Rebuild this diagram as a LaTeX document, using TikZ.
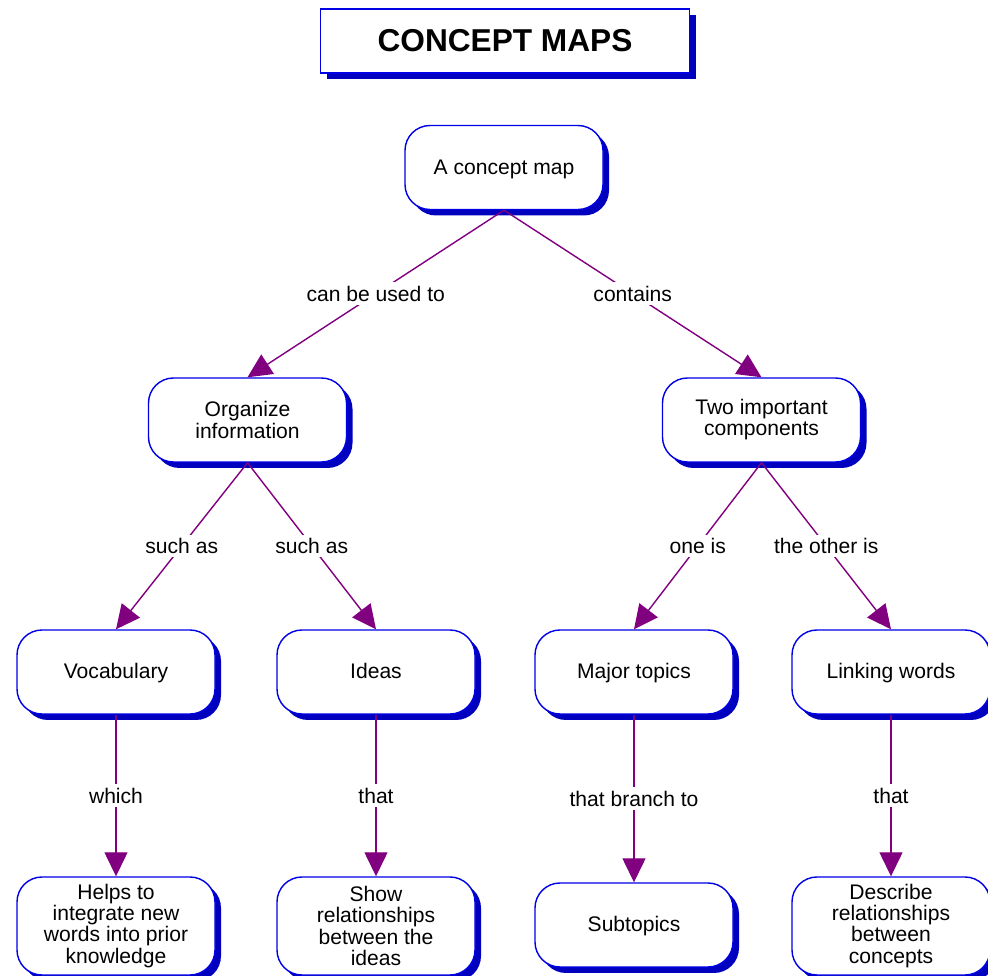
\documentclass[tikz,border=0pt]{standalone}
\usepackage{fontspec}
\setmainfont{Liberation Sans}
\usetikzlibrary{arrows.meta, shadows}
\definecolor{boxblue}{RGB}{0,0,230}
\definecolor{shadeblue}{RGB}{0,0,190}
\definecolor{linkpurple}{RGB}{128,0,128}

\begin{document}
\begin{tikzpicture}[
    concept/.style={draw=boxblue, line width=0.8pt, fill=white, rounded corners=0.5cm,
      minimum width=3.96cm, minimum height=1.68cm, align=center,
      font=\fontsize{12}{12}\selectfont,
      drop shadow={shadow xshift=0.12cm, shadow yshift=-0.12cm, fill=shadeblue, opacity=1}},
    oneline/.style={concept, text height=0.85em, text depth=0.1em},
    tall/.style={concept, minimum height=1.96cm},
    link/.style={draw=linkpurple, line width=0.8pt, -{Triangle[length=0.48cm, width=0.46cm]}},
    linkword/.style={fill=white, inner sep=2pt, font=\fontsize{12}{12}\selectfont}]
    \useasboundingbox (0,0) rectangle (19.76,-19.52);
    \clip (0,0) rectangle (19.76,-19.52);
    \node[draw=boxblue, line width=0.8pt, fill=white, minimum width=7.38cm, minimum height=1.28cm,
      font=\fontsize{18}{20}\selectfont\bfseries,
      drop shadow={shadow xshift=0.12cm, shadow yshift=-0.12cm, fill=shadeblue, opacity=1}]
      (title) at (10.10,-0.82) {CONCEPT MAPS};
    \node[oneline] (map) at (10.08,-3.35) {A concept map};
    \node[concept] (organize) at (4.95,-8.40) {Organize\\information};
    \node[concept] (two) at (15.23,-8.40) {Two important\\components};
    \node[oneline] (vocab) at (2.32,-13.44) {Vocabulary};
    \node[oneline] (ideas) at (7.52,-13.44) {Ideas};
    \node[oneline] (major) at (12.68,-13.44) {Major topics};
    \node[oneline] (linking) at (17.82,-13.44) {Linking words};
    \node[tall] (helps) at (2.32,-18.52) {Helps to\\integrate new\\words into prior\\knowledge};
    \node[tall] (show) at (7.52,-18.52) {Show\\relationships\\between the\\ideas};
    \node[oneline] (sub) at (12.68,-18.50) {Subtopics};
    \node[tall] (describe) at (17.82,-18.52) {Describe\\relationships\\between\\concepts};
    \draw[link] (map.south) -- node[linkword] {can be used to} (organize.north);
    \draw[link] (map.south) -- node[linkword] {contains} (two.north);
    \draw[link] (organize.south) -- node[linkword] {such as} (vocab.north);
    \draw[link] (organize.south) -- node[linkword] {such as} (ideas.north);
    \draw[link] (two.south) -- node[linkword] {one is} (major.north);
    \draw[link] (two.south) -- node[linkword] {the other is} (linking.north);
    \draw[link] (vocab.south) -- node[linkword] {which} (helps.north);
    \draw[link] (ideas.south) -- node[linkword] {that} (show.north);
    \draw[link] (major.south) -- node[linkword] {that branch to} (sub.north);
    \draw[link] (linking.south) -- node[linkword] {that} (describe.north);
\end{tikzpicture}
\end{document}
